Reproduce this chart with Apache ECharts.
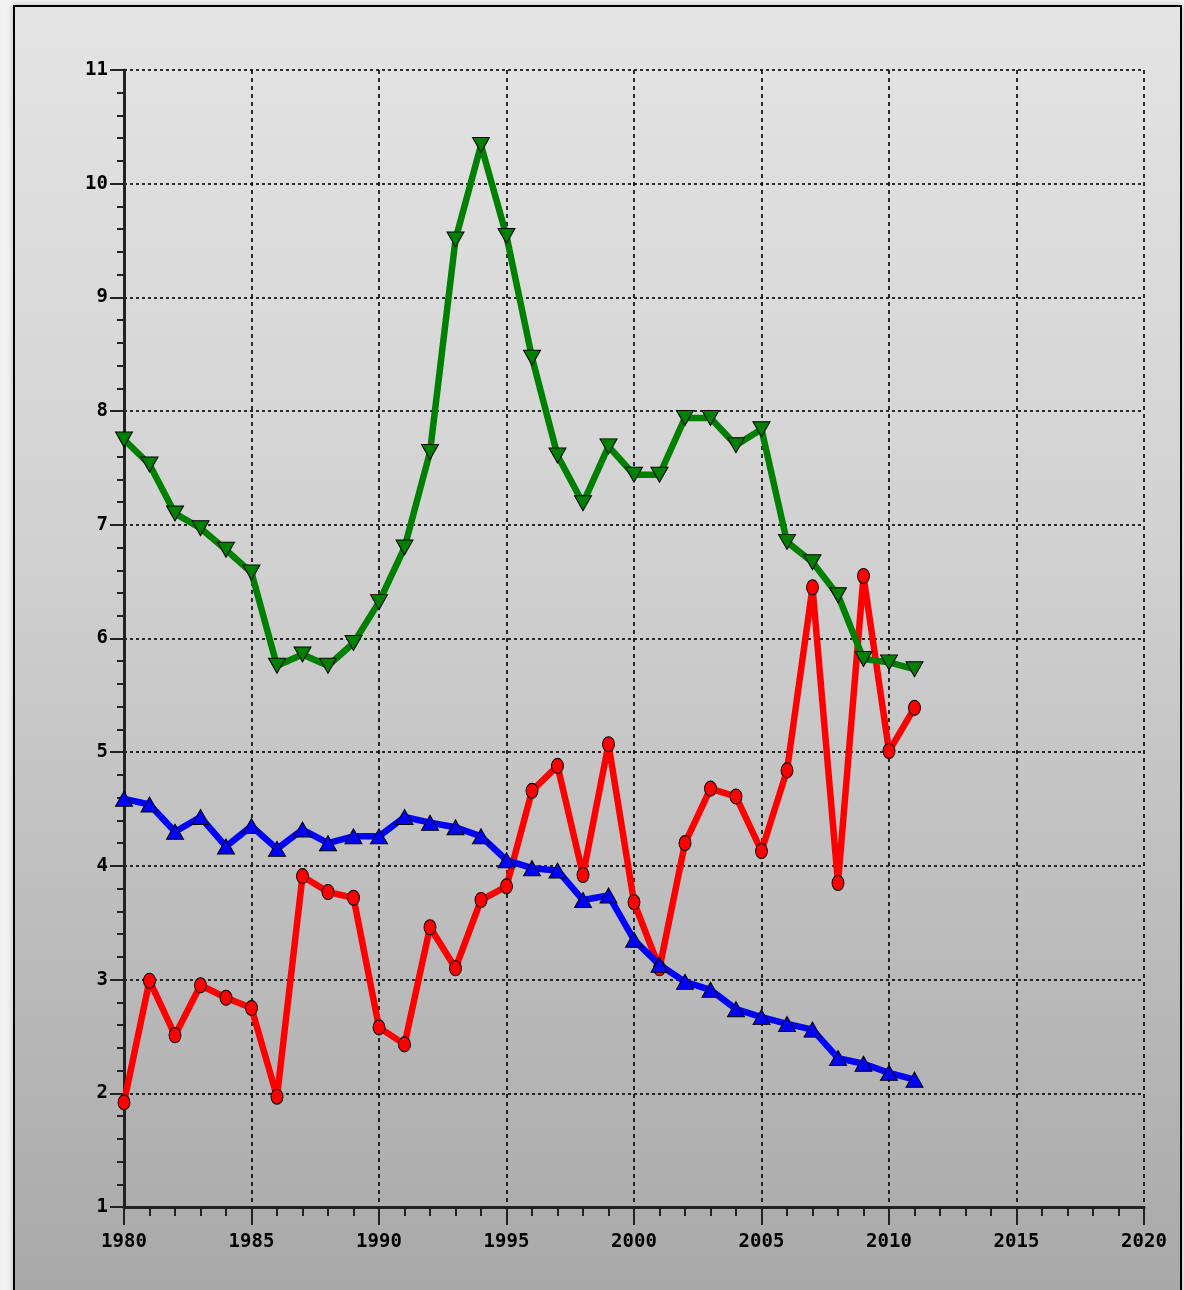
<!DOCTYPE html>
<html>
<head>
<meta charset="utf-8">
<script src="https://cdn.jsdelivr.net/npm/echarts@6/dist/echarts.min.js"></script>
<style>
  html, body { margin: 0; padding: 0; width: 1184px; height: 1290px; overflow: hidden; background: #f2f2f2; }
  #frame { position: absolute; left: 13px; top: 5px; width: 1165px; height: 1300px; border: 2px solid #000;
           background: linear-gradient(to bottom, #e4e4e4 0%, #d2d2d2 40%, #bdbdbd 70%, #a8a8a8 100%);
           box-shadow: 0 0 6px rgba(0,0,0,0.25); }
  #chart { position: absolute; left: 0; top: 0; width: 1184px; height: 1290px; }
</style>
</head>
<body>
<div id="frame"></div>
<div id="chart"></div>
<script>
const years = [1980,1981,1982,1983,1984,1985,1986,1987,1988,1989,1990,1991,1992,1993,1994,1995,1996,1997,1998,1999,2000,2001,2002,2003,2004,2005,2006,2007,2008,2009,2010,2011];
const greenValues = [7.75,7.53,7.10,6.97,6.78,6.58,5.76,5.86,5.76,5.96,6.32,6.80,7.64,9.51,10.34,9.54,8.47,7.61,7.19,7.69,7.44,7.44,7.94,7.94,7.70,7.84,6.85,6.67,6.38,5.82,5.79,5.73];
const redValues = [1.92,2.99,2.51,2.95,2.84,2.75,1.97,3.91,3.77,3.72,2.58,2.43,3.46,3.10,3.70,3.82,4.66,4.88,3.92,5.07,3.68,3.10,4.20,4.68,4.61,4.13,4.84,6.45,3.85,6.55,5.01,5.39];
const blueValues = [4.59,4.54,4.30,4.43,4.17,4.35,4.15,4.32,4.20,4.26,4.26,4.43,4.38,4.34,4.26,4.05,3.98,3.96,3.70,3.74,3.35,3.13,2.98,2.91,2.74,2.67,2.61,2.56,2.31,2.26,2.18,2.12];

function pairs(vals) { return years.map((y, i) => [y, vals[i]]); }

const chart = echarts.init(document.getElementById('chart'), null, { renderer: 'canvas' });
const labelFont = { color: '#000', fontFamily: 'DejaVu Sans Mono', fontWeight: 'bold', fontSize: 19 };
chart.setOption({
  animation: false,
  backgroundColor: 'transparent',
  grid: { left: 124, right: 40, top: 70, bottom: 83, containLabel: false },
  xAxis: {
    type: 'value', min: 1980, max: 2020, interval: 5,
    axisLine: { show: true, onZero: false, lineStyle: { color: '#222', width: 3 } },
    axisTick: { show: true, inside: false, length: 18, lineStyle: { color: '#222', width: 2 } },
    minorTick: { show: true, splitNumber: 5, length: 9, lineStyle: { color: '#222', width: 2 } },
    axisLabel: Object.assign({ margin: 26, formatter: v => String(v) }, labelFont),
    splitLine: { show: true, lineStyle: { color: '#000', width: 1.6, type: [4, 4] } }
  },
  yAxis: {
    type: 'value', min: 1, max: 11, interval: 1,
    axisLine: { show: true, onZero: false, lineStyle: { color: '#222', width: 3 } },
    axisTick: { show: true, inside: false, length: 14, lineStyle: { color: '#222', width: 2 } },
    minorTick: { show: true, splitNumber: 5, length: 7, lineStyle: { color: '#222', width: 2 } },
    axisLabel: Object.assign({ margin: 16 }, labelFont),
    splitLine: { show: true, lineStyle: { color: '#000', width: 1.6, type: [3, 3] } }
  },
  series: [
    {
      name: 'red', type: 'line', data: pairs(redValues),
      lineStyle: { color: '#ff0000', width: 6.5 },
      symbol: 'circle', symbolSize: [12, 15],
      itemStyle: { color: '#ff0000', borderColor: '#000', borderWidth: 1 }
    },
    {
      name: 'green', type: 'line', data: pairs(greenValues),
      lineStyle: { color: '#008000', width: 6.5 },
      symbol: 'triangle', symbolRotate: 180, symbolSize: [17, 15],
      itemStyle: { color: '#008000', borderColor: '#000', borderWidth: 1 }
    },
    {
      name: 'blue', type: 'line', data: pairs(blueValues),
      lineStyle: { color: '#0000ff', width: 6.5 },
      symbol: 'triangle', symbolSize: [17, 15],
      itemStyle: { color: '#0000ff', borderColor: '#000', borderWidth: 1 }
    }
  ]
});
</script>
</body>
</html>
